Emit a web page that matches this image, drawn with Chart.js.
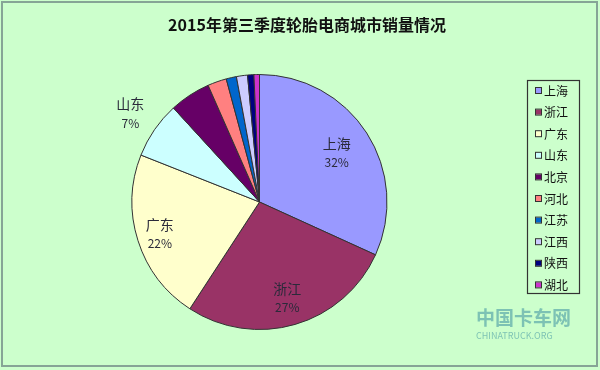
<!DOCTYPE html>
<html>
<head>
<meta charset="utf-8">
<script src="https://cdn.jsdelivr.net/npm/chart.js@4/dist/chart.umd.min.js"></script>
<style>
  html, body { margin: 0; padding: 0; background: #CCFFCC; }
  #wrap { position: relative; width: 600px; height: 370px; }
  canvas { display: block; }
</style>
</head>
<body>
<div id="wrap"><canvas id="c" width="600" height="370"></canvas></div>
<script>
// ---- data ----
const chartTitle = '2015年第三季度轮胎电商城市销量情况';
const cities = ['上海', '浙江', '广东', '山东', '北京', '河北', '江苏', '江西', '陕西', '湖北'];
const shares = [31.8, 27.4, 21.8, 7.2, 5.2, 2.4, 1.3, 1.4, 0.8, 0.7];
const sliceColors = ['#9999FF', '#993366', '#FFFFCC', '#CCFFFF', '#660066', '#FF8080', '#0066CC', '#CCCCFF', '#000080', '#CC33CC'];

const FONT = '"Noto Sans CJK SC", "Noto Sans", sans-serif';

const decorPlugin = {
  id: 'decor',
  beforeDraw(chart) {
    const ctx = chart.ctx;
    ctx.save();
    ctx.fillStyle = '#CCFFCC';
    ctx.fillRect(0, 0, chart.width, chart.height);
    ctx.strokeStyle = '#86a596';
    ctx.lineWidth = 2;
    ctx.strokeRect(2, 2, 595, 364);
    // title
    ctx.fillStyle = '#111';
    ctx.font = 'bold 16px ' + FONT;
    ctx.textAlign = 'center';
    ctx.textBaseline = 'middle';
    ctx.fillText(chartTitle, 307, 25);
    ctx.restore();
  },
  afterDatasetsDraw(chart, args, opts) {
    const ctx = chart.ctx;
    const meta = chart.getDatasetMeta(0);
    const values = chart.data.datasets[0].data;
    const total = values.reduce((a, b) => a + b, 0);
    ctx.save();
    ctx.textAlign = 'center';
    ctx.textBaseline = 'middle';
    ctx.fillStyle = '#2a2a3a';
    meta.data.forEach((arc, i) => {
      const f = opts.labelRadius[i];
      if (f === undefined) return;
      const p = arc.getProps(['x', 'y', 'startAngle', 'endAngle', 'outerRadius'], true);
      const mid = (p.startAngle + p.endAngle) / 2;
      const r = p.outerRadius * f;
      const x = p.x + Math.cos(mid) * r;
      const y = p.y + Math.sin(mid) * r;
      ctx.font = '14px ' + FONT;
      ctx.fillText(chart.data.labels[i], x, y - 9);
      ctx.font = '12px ' + FONT;
      ctx.fillText(Math.round(values[i] / total * 100) + '%', x, y + 10);
    });
    ctx.restore();
  },
  afterDraw(chart, args, opts) {
    const ctx = chart.ctx;
    const lg = opts.legend;
    ctx.save();
    // legend box
    ctx.fillStyle = '#CCFFCC';
    ctx.fillRect(lg.x, lg.y, lg.w, lg.h);
    ctx.strokeStyle = '#333';
    ctx.lineWidth = 1.2;
    ctx.strokeRect(lg.x + 0.5, lg.y + 0.5, lg.w, lg.h);
    ctx.font = '12px ' + FONT;
    ctx.textAlign = 'left';
    ctx.textBaseline = 'middle';
    chart.data.labels.forEach((lab, i) => {
      const y = lg.firstY + i * lg.step;
      ctx.fillStyle = chart.data.datasets[0].backgroundColor[i];
      ctx.fillRect(lg.x + 9, y - 3, 5, 5);
      ctx.strokeStyle = '#333';
      ctx.lineWidth = 1;
      ctx.strokeRect(lg.x + 8.5, y - 3.5, 6, 6);
      ctx.fillStyle = '#111';
      ctx.fillText(lab, lg.x + 17, y);
    });
    // watermark
    ctx.globalAlpha = 0.55;
    ctx.fillStyle = '#3d8fa0';
    ctx.font = 'bold 19px ' + FONT;
    ctx.fillText('中国卡车网', 476, 318);
    ctx.font = '9px ' + FONT;
    ctx.fillText('CHINATRUCK.ORG', 476, 336);
    ctx.restore();
  }
};

new Chart(document.getElementById('c'), {
  type: 'pie',
  data: {
    labels: cities,
    datasets: [{
      data: shares,
      backgroundColor: sliceColors,
      borderColor: '#333',
      borderWidth: 1
    }]
  },
  options: {
    responsive: false,
    animation: false,
    layout: { padding: { left: 131, right: 212, top: 74, bottom: 40 } },
    plugins: {
      legend: { display: false },
      tooltip: { enabled: false },
      title: { display: false },
      decor: {
        labelRadius: [0.72, 0.78, 0.82, 1.23],
        legend: { x: 527, y: 80, w: 52, h: 213, firstY: 91, step: 21.6 }
      }
    }
  },
  plugins: [decorPlugin]
});
</script>
</body>
</html>
